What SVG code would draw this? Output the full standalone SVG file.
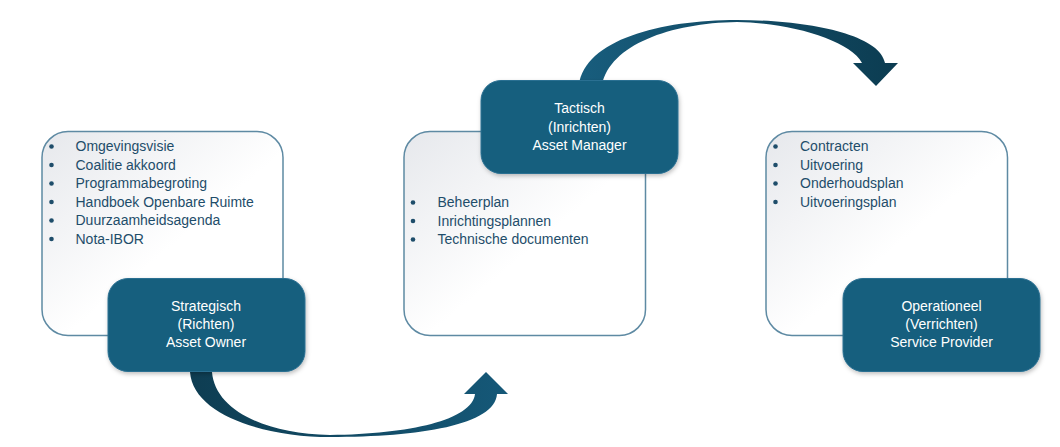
<svg xmlns="http://www.w3.org/2000/svg" width="1060" height="447" viewBox="0 0 1060 447">
  <defs>
    <linearGradient id="lightFill" x1="0" y1="0" x2="1" y2="1">
      <stop offset="0" stop-color="#e6e8ec"/>
      <stop offset="0.55" stop-color="#ffffff"/>
      <stop offset="1" stop-color="#ffffff"/>
    </linearGradient>
    <linearGradient id="arrowBottom" x1="190" y1="0" x2="508" y2="0" gradientUnits="userSpaceOnUse">
      <stop offset="0" stop-color="#0e3d52"/>
      <stop offset="1" stop-color="#155878"/>
    </linearGradient>
    <linearGradient id="arrowTop" x1="579" y1="0" x2="898" y2="0" gradientUnits="userSpaceOnUse">
      <stop offset="0" stop-color="#185d7d"/>
      <stop offset="1" stop-color="#0c3c51"/>
    </linearGradient>
    <filter id="shadow" x="-10%" y="-10%" width="125%" height="130%">
      <feDropShadow dx="1" dy="2" stdDeviation="2" flood-color="#000" flood-opacity="0.25"/>
    </filter>
    <style>
      .light { fill: url(#lightFill); stroke: #5e8aa3; stroke-width: 1.5; }
      .dark { fill: #175e7e; stroke: #2a7092; stroke-width: 1; filter: url(#shadow); }
      .item { font-family: "Liberation Sans", Arial, sans-serif; font-size: 14px; fill: #1e4d6a; }
      .bullet { fill: #1e4d6a; }
      .title { font-family: "Liberation Sans", Arial, sans-serif; font-size: 14px; fill: #ffffff; text-anchor: middle; }
    </style>
  </defs>

  <g id="connectors">
    <path id="arrow-bottom" fill="url(#arrowBottom)" d="M190,372 C193,415 265,437 330,437 C420,437 495,425 497,394 L508,394 L486,372 L464,394 L475,394 C472,420 410,434 330,435 C265,434 215,410 212,372 Z"/>
    <path id="arrow-top" fill="url(#arrowTop)" d="M579,85 C585,40 660,20 737,20 C810,20 880,35 885,63 L898,63 L876,86 L853,63 L862,63 C850,40 790,23 737,22 C670,23 610,45 602,85 Z"/>
  </g>

  <g id="node-strategisch">
    <rect class="light" x="42" y="131.5" width="241" height="204" rx="26"/>
    <circle class="bullet" cx="51.5" cy="146.5" r="2.3"/>
    <circle class="bullet" cx="51.5" cy="165" r="2.3"/>
    <circle class="bullet" cx="51.5" cy="183.5" r="2.3"/>
    <circle class="bullet" cx="51.5" cy="202" r="2.3"/>
    <circle class="bullet" cx="51.5" cy="220.5" r="2.3"/>
    <circle class="bullet" cx="51.5" cy="239" r="2.3"/>
    <text class="item" x="75.5" y="151">Omgevingsvisie</text>
    <text class="item" x="75.5" y="169.5">Coalitie akkoord</text>
    <text class="item" x="75.5" y="188">Programmabegroting</text>
    <text class="item" x="75.5" y="206.5">Handboek Openbare Ruimte</text>
    <text class="item" x="75.5" y="225">Duurzaamheidsagenda</text>
    <text class="item" x="75.5" y="243.5">Nota-IBOR</text>
    <rect class="dark" x="108" y="278.5" width="197" height="93" rx="20"/>
    <text class="title" x="206" y="310.5">Strategisch</text>
    <text class="title" x="206" y="329">(Richten)</text>
    <text class="title" x="206" y="347">Asset Owner</text>
  </g>

  <g id="node-tactisch">
    <rect class="light" x="404" y="131.5" width="241.5" height="204" rx="26"/>
    <circle class="bullet" cx="413" cy="202.5" r="2.3"/>
    <circle class="bullet" cx="413" cy="221" r="2.3"/>
    <circle class="bullet" cx="413" cy="239.5" r="2.3"/>
    <text class="item" x="437.5" y="207">Beheerplan</text>
    <text class="item" x="437.5" y="225.5">Inrichtingsplannen</text>
    <text class="item" x="437.5" y="244">Technische documenten</text>
    <rect class="dark" x="481" y="80.5" width="197" height="93" rx="20"/>
    <text class="title" x="579.5" y="113">Tactisch</text>
    <text class="title" x="579.5" y="131.5">(Inrichten)</text>
    <text class="title" x="579.5" y="150">Asset Manager</text>
  </g>

  <g id="node-operationeel">
    <rect class="light" x="766" y="131.5" width="241.5" height="204" rx="26"/>
    <circle class="bullet" cx="775.5" cy="146.5" r="2.3"/>
    <circle class="bullet" cx="775.5" cy="165" r="2.3"/>
    <circle class="bullet" cx="775.5" cy="183.5" r="2.3"/>
    <circle class="bullet" cx="775.5" cy="202" r="2.3"/>
    <text class="item" x="800" y="151">Contracten</text>
    <text class="item" x="800" y="169.5">Uitvoering</text>
    <text class="item" x="800" y="188">Onderhoudsplan</text>
    <text class="item" x="800" y="206.5">Uitvoeringsplan</text>
    <rect class="dark" x="843" y="278.5" width="197" height="93" rx="20"/>
    <text class="title" x="941.5" y="310.5">Operationeel</text>
    <text class="title" x="941.5" y="329">(Verrichten)</text>
    <text class="title" x="941.5" y="347">Service Provider</text>
  </g>
</svg>
